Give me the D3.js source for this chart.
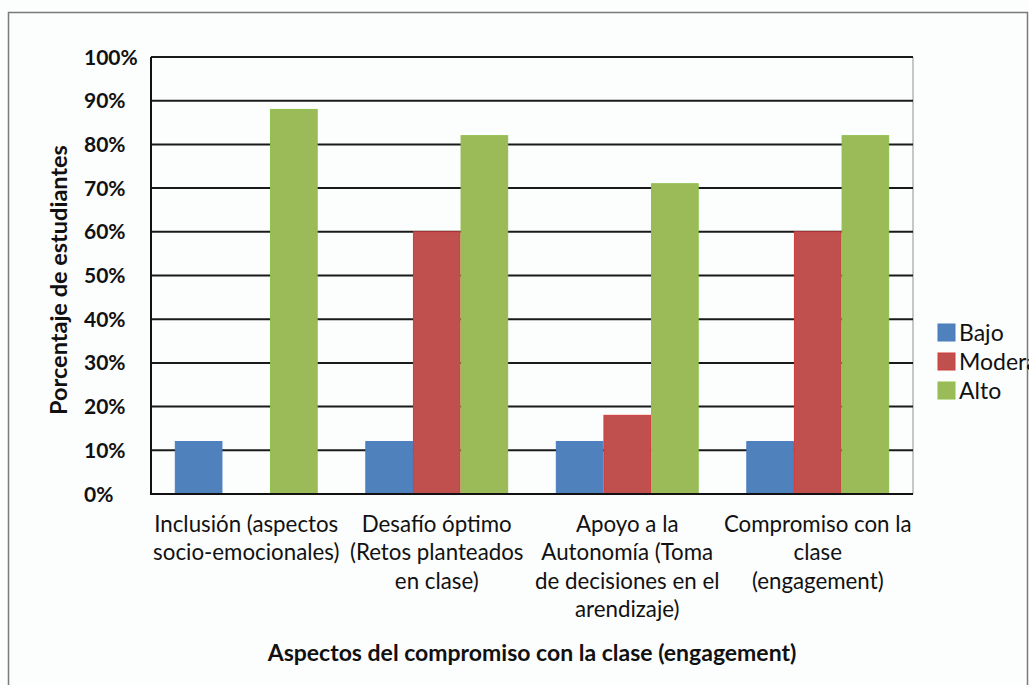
<!DOCTYPE html>
<head>
  <meta charset="utf-8">
  <script src="https://d3js.org/d3.v7.min.js"></script>
  <style>
    body { margin:0; background:#fff; }
    text { font-family: Lato, "Open Sans", sans-serif; fill:#111; }
  </style>
</head>
<body>
<script>

/* Data */
/* ==== */

var categories = [
  ["Inclusión (aspectos", "socio-emocionales)"],
  ["Desafío óptimo", "(Retos planteados", "en clase)"],
  ["Apoyo a la", "Autonomía (Toma", "de decisiones en el", "arendizaje)"],
  ["Compromiso con la", "clase", "(engagement)"]
];
var series = ["Bajo", "Moderado", "Alto"];
var bajo     = [12, 12, 12, 12];
var moderado = [0, 60, 18, 60];
var alto     = [88, 82, 71, 82];
var yTicks = [0, 10, 20, 30, 40, 50, 60, 70, 80, 90, 100];
var colors = ["#4f81bd", "#c0504d", "#9bbb59"];
var strokes = ["#4a7cc0", "#d23c3c", "#8fbf4a"];

var values = [bajo, moderado, alto];

/* Set up */
/* ====== */

var width = 1029,
    height = 685,
    margin = { top: 57, right: 116, bottom: 191, left: 151 },
    plotW = width - margin.left - margin.right,
    plotH = height - margin.top - margin.bottom;

var svg = d3.select('body')
  .append('svg')
    .attr('width', width)
    .attr('height', height);

svg.append('rect')
    .attr('width', width).attr('height', height)
    .attr('fill', '#fcfdfd');

// outer frame
svg.append('rect')
    .attr('x', 8.5).attr('y', 12.5)
    .attr('width', 1019).attr('height', 700)
    .attr('fill', 'none')
    .attr('stroke', '#7a7a7a')
    .attr('stroke-width', 1.5);

var g = svg.append('g')
    .attr('transform', 'translate(' + margin.left + ',' + margin.top + ')');

var x0 = d3.scaleBand()
    .domain(d3.range(categories.length))
    .range([0, plotW]);

var x1 = d3.scaleBand()
    .domain(series)
    .range([x0.bandwidth() * 0.125, x0.bandwidth() * 0.875]);

var y = d3.scaleLinear()
    .domain([0, 100])
    .range([plotH, 0]);

// plot area right border
g.append('line')
    .attr('x1', plotW).attr('x2', plotW)
    .attr('y1', 0).attr('y2', plotH)
    .attr('stroke', '#b5b5b5')
    .attr('stroke-width', 1.5);

// gridlines
g.selectAll('.grid')
    .data(yTicks.filter(function(d) { return d > 0; }))
    .enter()
  .append('line')
    .attr('class', 'grid')
    .attr('x1', 0).attr('x2', plotW)
    .attr('y1', function(d) { return y(d); })
    .attr('y2', function(d) { return y(d); })
    .attr('stroke', '#1a1a1a')
    .attr('stroke-width', 2);

// tick labels (left aligned like the original)
g.selectAll('.ytick')
    .data(yTicks)
    .enter()
  .append('text')
    .attr('class', 'ytick')
    .attr('x', 84 - margin.left)
    .attr('y', function(d) { return y(d); })
    .attr('dy', '0.36em')
    .attr('font-size', 21)
    .attr('font-weight', 'bold')
    .text(function(d) { return d + '%'; });

// bars
var groups = g.selectAll('.cat')
    .data(categories)
    .enter()
  .append('g')
    .attr('class', 'cat')
    .attr('transform', function(d, i) { return 'translate(' + x0(i) + ',0)'; });

groups.selectAll('rect')
    .data(function(d, i) {
      return series.map(function(s, j) { return { s: s, j: j, v: values[j][i] }; });
    })
    .enter()
  .filter(function(d) { return d.v > 0; })
  .append('rect')
    .attr('x', function(d) { return x1(d.s) + 0.5; })
    .attr('width', x1.bandwidth() - 1)
    .attr('y', function(d) { return y(d.v); })
    .attr('height', function(d) { return plotH - y(d.v); })
    .attr('fill', function(d) { return colors[d.j]; })
    .attr('stroke', function(d) { return strokes[d.j]; })
    .attr('stroke-width', 1);

// axes lines
g.append('line')
    .attr('x1', 0).attr('x2', plotW)
    .attr('y1', plotH).attr('y2', plotH)
    .attr('stroke', '#111').attr('stroke-width', 2);

g.append('line')
    .attr('x1', 0).attr('x2', 0)
    .attr('y1', 0).attr('y2', plotH + 1)
    .attr('stroke', '#111').attr('stroke-width', 2);

// category labels
groups.append('text')
    .attr('text-anchor', 'middle')
    .attr('font-size', 22.3)
    .selectAll('tspan')
    .data(function(d) { return d; })
    .enter()
  .append('tspan')
    .attr('x', x0.bandwidth() / 2)
    .attr('y', function(d, k) { return plotH + 38 + k * 28.3; })
    .text(function(d) { return d; });

// axis titles
svg.append('text')
    .attr('x', margin.left + plotW / 2)
    .attr('y', 661)
    .attr('text-anchor', 'middle')
    .attr('font-size', 23)
    .attr('font-weight', 'bold')
    .text('Aspectos del compromiso con la clase (engagement)');

svg.append('text')
    .attr('transform', 'translate(67,280) rotate(-90)')
    .attr('text-anchor', 'middle')
    .attr('font-size', 23.5)
    .attr('font-weight', 'bold')
    .text('Porcentaje de estudiantes');

// legend
var legend = svg.append('g')
    .attr('transform', 'translate(938,324)');

var items = legend.selectAll('.item')
    .data(series)
    .enter()
  .append('g')
    .attr('class', 'item')
    .attr('transform', function(d, i) { return 'translate(0,' + i * 29 + ')'; });

items.append('rect')
    .attr('width', 17).attr('height', 17)
    .attr('fill', function(d, i) { return colors[i]; })
    .attr('stroke', function(d, i) { return strokes[i]; });

items.append('text')
    .attr('x', 21)
    .attr('y', 17)
    .attr('font-size', 23)
    .text(function(d) { return d; });

</script>
</body>
